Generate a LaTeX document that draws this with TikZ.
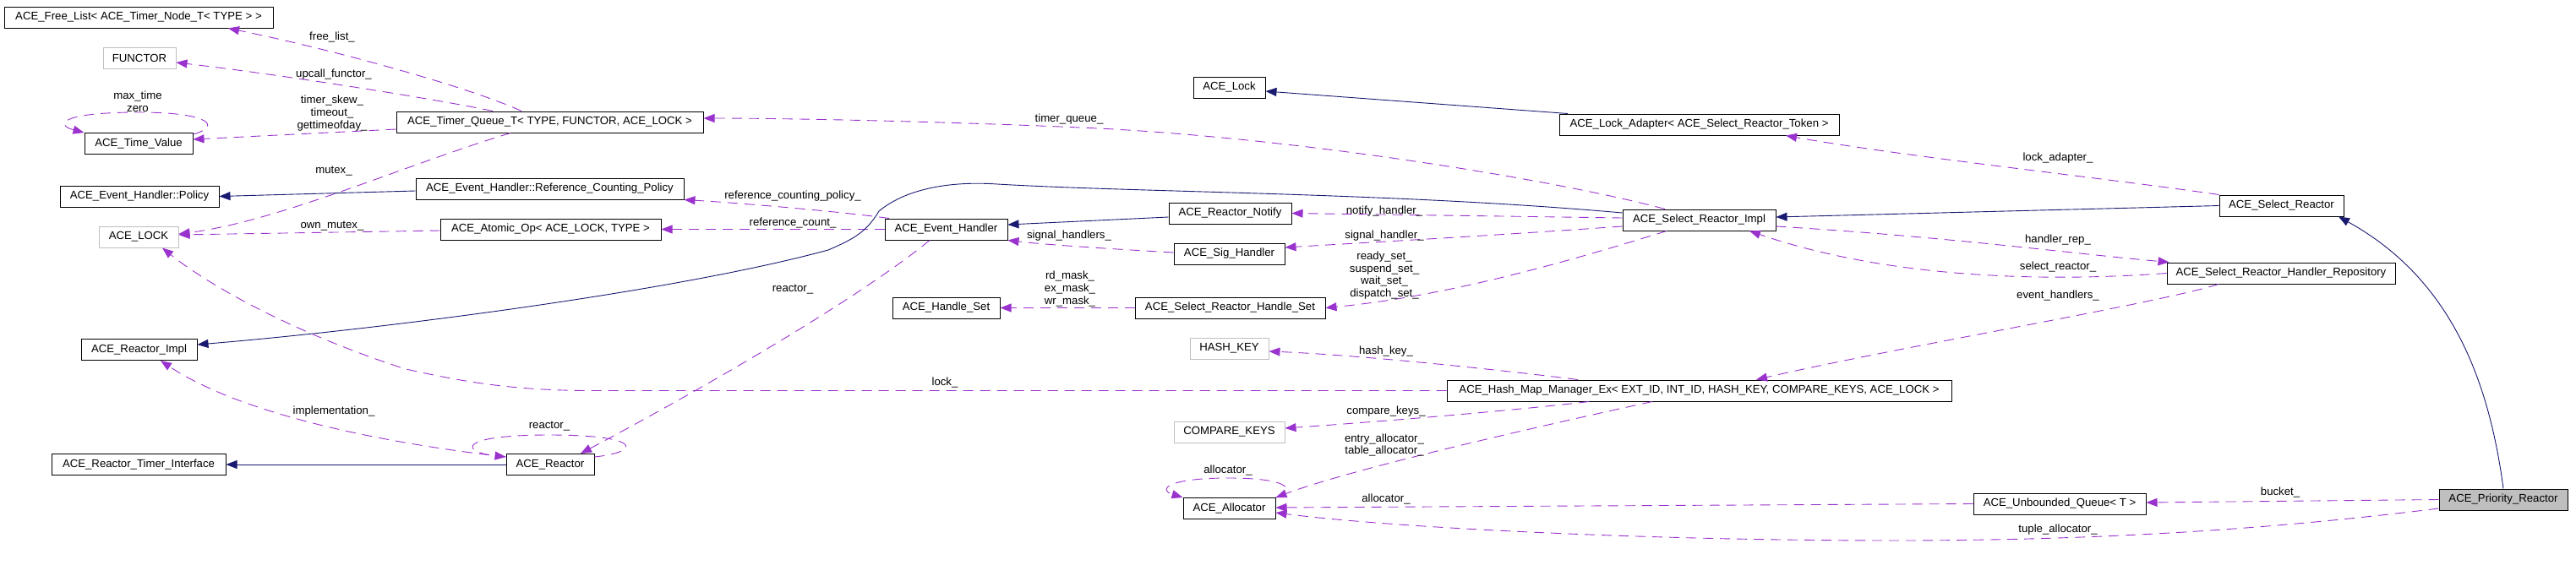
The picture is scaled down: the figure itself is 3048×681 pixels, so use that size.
\documentclass[tikz,border=0pt]{standalone}
\usepackage{fontspec}
\setmainfont{Liberation Sans}
\usetikzlibrary{arrows.meta,calc}
\definecolor{inhcol}{HTML}{191970}
\definecolor{usecol}{HTML}{9A32CD}
\definecolor{gbord}{HTML}{BFBFBF}
\newcommand{\dxfont}{\fontsize{6.6}{7.4}\selectfont}
\tikzset{
  cls/.style={draw=black, line width=0.5pt, inner sep=0pt, minimum height=12.5pt, font=\dxfont},
  ext/.style={cls, draw=gbord},
  inhe/.style={draw=inhcol, line width=0.45pt, -{Triangle[length=6.5pt,width=5pt]}},
  usee/.style={draw=usecol, line width=0.45pt, dash pattern=on 6pt off 4pt, -{Triangle[length=6.5pt,width=5pt]}},
  lbl/.style={font=\dxfont, inner sep=0pt, align=center}
}
\begin{document}
\begin{tikzpicture}[x=0.5pt,y=-0.5pt]
\useasboundingbox (0,0) rectangle (3048,681);
% nodes
\node[cls, minimum width=159pt] (freelist) at (164,20.5) {ACE\_Free\_List< ACE\_Timer\_Node\_T< TYPE > >};
\node[ext, minimum width=43pt] (functor) at (165,69) {FUNCTOR};
\node[cls, minimum width=64pt] (timevalue) at (164,170) {ACE\_Time\_Value};
\node[cls, minimum width=94pt] (policy) at (165,232.5) {ACE\_Event\_Handler::Policy};
\node[ext, minimum width=47pt] (acelock) at (164,280.5) {ACE\_LOCK};
\node[cls, minimum width=68.5pt] (reactorimpl) at (164.5,414) {ACE\_Reactor\_Impl};
\node[cls, minimum width=103pt] (timerif) at (164,550) {ACE\_Reactor\_Timer\_Interface};
\node[cls, minimum width=181.5pt] (timerqueue) at (650.5,144.5) {ACE\_Timer\_Queue\_T< TYPE, FUNCTOR, ACE\_LOCK >};
\node[cls, minimum width=158.5pt] (rcp) at (650.5,223.5) {ACE\_Event\_Handler::Reference\_Counting\_Policy};
\node[cls, minimum width=130.5pt] (atomicop) at (651.5,271.5) {ACE\_Atomic\_Op< ACE\_LOCK, TYPE >};
\node[cls, minimum width=52pt] (reactor) at (651,550) {ACE\_Reactor};
\node[cls, minimum width=42.5pt] (lock) at (1454.5,103.5) {ACE\_Lock};
\node[cls, minimum width=72.5pt] (eventhandler) at (1119.5,271.5) {ACE\_Event\_Handler};
\node[cls, minimum width=72.5pt] (notify) at (1455.5,252.5) {ACE\_Reactor\_Notify};
\node[cls, minimum width=65.5pt] (sighandler) at (1454.5,300.5) {ACE\_Sig\_Handler};
\node[cls, minimum width=63.5pt] (handleset) at (1119.5,364.5) {ACE\_Handle\_Set};
\node[cls, minimum width=112.5pt] (srhandleset) at (1455.5,364.5) {ACE\_Select\_Reactor\_Handle\_Set};
\node[ext, minimum width=46.5pt] (hashkey) at (1454.5,412.5) {HASH\_KEY};
\node[ext, minimum width=65.5pt] (comparekeys) at (1454.5,511.5) {COMPARE\_KEYS};
\node[cls, minimum width=54.5pt] (allocator) at (1454.5,602) {ACE\_Allocator};
\node[cls, minimum width=165.5pt] (lockadapter) at (2010.5,147.5) {ACE\_Lock\_Adapter< ACE\_Select\_Reactor\_Token >};
\node[cls, minimum width=90.5pt] (srimpl) at (2010.5,260.5) {ACE\_Select\_Reactor\_Impl};
\node[cls, minimum width=298.5pt] (hashmap) at (2010.5,462.5) {ACE\_Hash\_Map\_Manager\_Ex< EXT\_ID, INT\_ID, HASH\_KEY, COMPARE\_KEYS, ACE\_LOCK >};
\node[cls, minimum width=102pt] (uqueue) at (2437,596.5) {ACE\_Unbounded\_Queue< T >};
\node[cls, minimum width=73.5pt] (selectreactor) at (2699.5,243.5) {ACE\_Select\_Reactor};
\node[cls, minimum width=135pt] (repository) at (2699,323.5) {ACE\_Select\_Reactor\_Handler\_Repository};
\node[cls, minimum width=76pt, fill=gbord] (priority) at (2962,591.5) {ACE\_Priority\_Reactor};
% edges
\draw[usee] ([xshift=-16.75pt]timerqueue.north) .. controls (560,105) and (400,60) .. ([xshift=53pt]freelist.south);
\draw[usee] ([xshift=-33.75pt]timerqueue.north) .. controls (520,118) and (330,88) .. ([yshift=-2.5pt]functor.east);
\draw[usee] ([yshift=-4.25pt]timerqueue.west) -- ([yshift=2.5pt]timevalue.east);
\draw[usee] ([yshift=-1pt]timevalue.north east) .. controls (262,150) and (250,133) .. (164,133) .. controls (70,133) and (65,148) .. (timevalue.north west);
\draw[usee] ([xshift=-23.25pt]timerqueue.south) .. controls (480,195) and (330,262) .. ([yshift=1.75pt]acelock.east);
\draw[inhe] ([yshift=-1.25pt]rcp.west) -- (policy.east);
\draw[usee] ([yshift=-0.75pt]atomicop.west) -- ([yshift=1.25pt]acelock.east);
\draw[usee] ([xshift=-33.75pt]eventhandler.north) .. controls (990,250) and (870,240) .. (rcp.south east);
\draw[usee] (eventhandler.west) -- (atomicop.east);
\draw[usee] ([yshift=4.5pt]reactor.west) .. controls (500,530) and (300,500) .. ([xshift=12.75pt]reactorimpl.south);
\draw[inhe] (reactor.west) -- (timerif.east);
\draw[inhe] ([yshift=4.25pt]srimpl.west) .. controls (1650,228) and (1350,228) .. (1180,218) .. controls (1120,214) and (1070,225) .. (1040,250) .. controls (1025,275) and (1010,283) .. (980,296) .. controls (800,345) and (450,390) .. ([yshift=3pt]reactorimpl.east);
\draw[inhe] ([yshift=-2.25pt]notify.west) -- ([yshift=2.75pt]eventhandler.east);
\draw[usee] ([yshift=0.75pt]sighandler.west) .. controls (1320,295) and (1240,290) .. (eventhandler.south east);
\draw[usee] ([xshift=-20.25pt]srimpl.north) .. controls (1850,215) and (1550,165) .. (1300,152) .. controls (1150,145) and (950,140) .. ([yshift=2.25pt]timerqueue.east);
\draw[usee] ([yshift=1.25pt]srimpl.west) -- (notify.east);
\draw[usee] ([yshift=-3.75pt]srimpl.west) .. controls (1750,280) and (1620,287) .. ([yshift=3.75pt]sighandler.east);
\draw[usee] ([xshift=-19.25pt]srimpl.south) .. controls (1870,305) and (1720,350) .. (srhandleset.east);
\draw[usee] (srhandleset.west) -- (handleset.east);
\draw[usee] ([xshift=-9.75pt]eventhandler.south) .. controls (1020,350) and (850,450) .. ([xshift=18pt]reactor.north);
\draw[usee] ([yshift=4.5pt]reactor.east) .. controls (760,535) and (760,515) .. (650,515) .. controls (540,515) and (545,535) .. ([yshift=4.5pt]reactor.west);
\draw[inhe] ([xshift=-77.75pt]lockadapter.north) -- ([yshift=-2.25pt]lock.east);
\draw[usee] (selectreactor.north west) .. controls (2500,212) and (2250,185) .. ([xshift=51.25pt]lockadapter.south);
\draw[inhe] (selectreactor.west) -- ([yshift=1.75pt]srimpl.east);
\draw[usee] ([yshift=-3.75pt]srimpl.east) .. controls (2300,280) and (2450,300) .. ([xshift=1.5pt]repository.north west);
\draw[usee] (repository.west) .. controls (2450,332) and (2250,335) .. ([xshift=29.75pt]srimpl.south);
\draw[usee] ([xshift=-37pt]repository.south) .. controls (2550,360) and (2250,410) .. ([xshift=33.75pt]hashmap.north);
\draw[usee] ([xshift=-71.75pt]hashmap.north) .. controls (1750,435) and (1600,420) .. ([yshift=-1.75pt]hashkey.east);
\draw[usee] (hashmap.west) -- (700,462.5) .. controls (600,462.5) and (540,450) .. (480,437) .. controls (350,395) and (250,340) .. ([xshift=14pt]acelock.south);
\draw[usee] ([xshift=-65.25pt]hashmap.south) .. controls (1800,485) and (1650,498) .. ([yshift=2.25pt]comparekeys.east);
\draw[usee] ([xshift=-27.75pt]hashmap.south) .. controls (1820,505) and (1600,555) .. (allocator.north east);
\draw[usee] (allocator.north east) .. controls (1535,580) and (1525,566) .. (1454,566) .. controls (1380,566) and (1370,580) .. (allocator.north west);
\draw[usee] (uqueue.west) -- ([yshift=0.5pt]allocator.east);
\draw[usee] ([yshift=-5.25pt]priority.west) .. controls (2700,625) and (2500,640) .. (2240,640) .. controls (1950,640) and (1650,625) .. ([yshift=-2.5pt]allocator.east);
\draw[usee] (priority.west) -- ([yshift=0.75pt]uqueue.east);
\draw[inhe] (priority.north) .. controls (2945,450) and (2900,330) .. ([xshift=33.75pt]selectreactor.south);
% labels
\node[lbl] (l1) at (393,44) {free\_list\_};
\node[lbl] (l2) at (395,88) {upcall\_functor\_};
\node[lbl] (l3) at (393,134) {timer\_skew\_\\timeout\_\\gettimeofday\_};
\node[lbl] (l4) at (163,120) {max\_time\\zero};
\node[lbl] (l5) at (395,203) {mutex\_};
\node[lbl] (l6) at (393,268) {own\_mutex\_};
\node[lbl] (l7) at (938,232) {reference\_counting\_policy\_};
\node[lbl] (l8) at (938,264) {reference\_count\_};
\node[lbl] (l9) at (395,487) {implementation\_};
\node[lbl] (l10) at (938,343) {reactor\_};
\node[lbl] (l11) at (650,505) {reactor\_};
\node[lbl] (l12) at (1265,141) {timer\_queue\_};
\node[lbl] (l13) at (1265,279) {signal\_handlers\_};
\node[lbl] (l14) at (1266,342) {rd\_mask\_\\ex\_mask\_\\wr\_mask\_};
\node[lbl] (l15) at (1638,250) {notify\_handler\_};
\node[lbl] (l16) at (1638,279) {signal\_handler\_};
\node[lbl] (l17) at (1638,326) {ready\_set\_\\suspend\_set\_\\wait\_set\_\\dispatch\_set\_};
\node[lbl] (l18) at (1640,416) {hash\_key\_};
\node[lbl] (l19) at (1118,453) {lock\_};
\node[lbl] (l20) at (1640,487) {compare\_keys\_};
\node[lbl] (l21) at (1638,527) {entry\_allocator\_\\table\_allocator\_};
\node[lbl] (l22) at (1453,557) {allocator\_};
\node[lbl] (l23) at (1640,591) {allocator\_};
\node[lbl] (l24) at (2435,187) {lock\_adapter\_};
\node[lbl] (l25) at (2435,284) {handler\_rep\_};
\node[lbl] (l26) at (2435,316) {select\_reactor\_};
\node[lbl] (l27) at (2435,350) {event\_handlers\_};
\node[lbl] (l28) at (2435,627) {tuple\_allocator\_};
\node[lbl] (l29) at (2698,583) {bucket\_};
\end{tikzpicture}
\end{document}
